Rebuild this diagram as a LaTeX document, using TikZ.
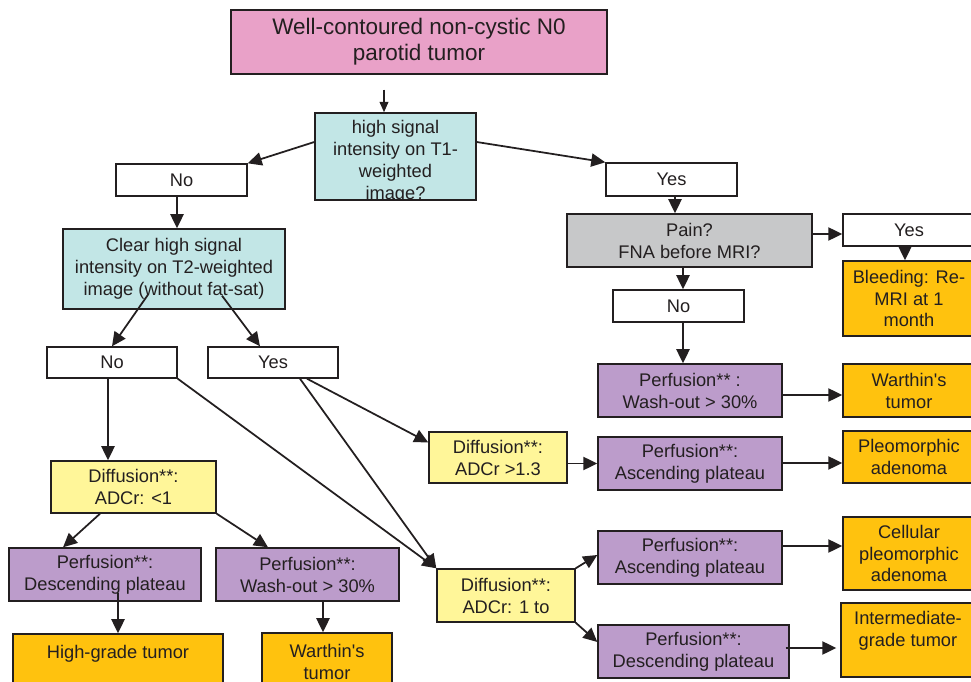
\documentclass[tikz,border=0pt]{standalone}
\usepackage{fontspec}
\setmainfont{Liberation Sans}[Ligatures=TeXOff]
\usetikzlibrary{arrows.meta}
\definecolor{edge}{RGB}{35,31,32}
\definecolor{ink}{RGB}{35,31,32}
\definecolor{pinkbox}{RGB}{233,161,200}
\definecolor{cyanbox}{RGB}{194,230,230}
\definecolor{graybox}{RGB}{199,200,201}
\definecolor{yellowbox}{RGB}{255,246,153}
\definecolor{purplebox}{RGB}{188,156,203}
\definecolor{orangebox}{RGB}{255,194,14}

\begin{document}
\begin{tikzpicture}[x=0.02cm,y=-0.02cm,
  box/.style={draw=edge,line width=0.8pt,inner sep=0pt,align=center,text=ink,
    font=\fontsize{10.4}{12.5}\selectfont},
  choice/.style={box,fill=white},
  question/.style={box,fill=cyanbox},
  diffusion/.style={box,fill=yellowbox},
  perfusion/.style={box,fill=purplebox,minimum height=1.06cm},
  result/.style={box,fill=orangebox},
  arr/.style={draw=edge,line width=1pt,-{Triangle[length=8pt,width=7.5pt]}},
  arrs/.style={draw=edge,line width=1pt,-{Triangle[length=6pt,width=5pt]}}]
\useasboundingbox (0,0) rectangle (971,682);

\node[box,fill=pinkbox,minimum width=7.52cm,minimum height=1.28cm,font=\fontsize{12.8}{15}\selectfont] (title) at (419,42) {Well-contoured non-cystic N0\\parotid tumor};

\node[question,minimum width=3.22cm,minimum height=1.74cm] (t1) at (395.5,156.5) {};
\begin{scope}
\clip (t1.south west) rectangle (t1.north east);
\node[box,draw=none] (t1text) at (395.5,162) {high signal\\intensity on T1-\\weighted\\image?};
\end{scope}

\node[choice,minimum width=2.62cm,minimum height=0.64cm] (no1) at (181.5,180) {No};
\node[choice,minimum width=2.62cm,minimum height=0.66cm] (yes1) at (671.5,179.5) {Yes};
\node[box,fill=graybox,minimum width=4.9cm,minimum height=1.06cm] (pain) at (689.5,240.5) {Pain?\\FNA before MRI?};
\node[choice,minimum width=2.64cm,minimum height=0.64cm] (yes2) at (909,230) {Yes};
\node[result,minimum width=2.64cm,minimum height=1.5cm] (bleed) at (909,298.5) {Bleeding: Re-\\MRI at 1\\month};
\node[choice,minimum width=2.62cm,minimum height=0.64cm] (no2) at (678.5,306) {No};
\node[perfusion,minimum width=3.68cm] (pwr) at (690,390.5) {Perfusion** :\\Wash-out > 30\%};
\node[result,minimum width=2.64cm,minimum height=1.06cm] (wr) at (909,390.5) {Warthin's\\tumor};

\node[question,minimum width=4.44cm,minimum height=1.6cm] (t2) at (174,269) {Clear high signal\\intensity on T2-weighted\\image (without fat-sat)};
\node[choice,minimum width=2.6cm,minimum height=0.62cm] (no3) at (112,362.5) {No};
\node[choice,minimum width=2.6cm,minimum height=0.62cm] (yes3) at (273,362.5) {Yes};

\node[diffusion,minimum width=3.3cm,minimum height=1.04cm] (dlow) at (133.5,487) {Diffusion**:\\ADCr: <1};
\node[perfusion,minimum width=3.84cm] (pdl) at (105,574.5) {Perfusion**:\\Descending plateau};
\node[perfusion,minimum width=3.66cm] (pwl) at (307.5,574.5) {Perfusion**:\\Wash-out > 30\%};
\node[result,minimum width=4.2cm,minimum height=1.16cm] (hg) at (118,663) {High-grade tumor\\\mbox{}};
\node[result,minimum width=2.6cm,minimum height=1.16cm] (wl) at (327,662) {Warthin's\\tumor};

\node[diffusion,minimum width=2.76cm,minimum height=1.02cm] (dhigh) at (498,457.5) {Diffusion**:\\ADCr >1.3};
\node[perfusion,minimum width=3.68cm] (pa1) at (690,463.5) {Perfusion**:\\Ascending plateau};
\node[result,minimum width=2.64cm,minimum height=1.04cm] (pleo) at (909,457) {Pleomorphic\\adenoma};

\node[diffusion,minimum width=2.76cm,minimum height=1.06cm] (dmid) at (506,595.5) {Diffusion**:\\ADCr: 1 to};
\node[perfusion,minimum width=3.68cm] (pa2) at (690,557.5) {Perfusion**:\\Ascending plateau};
\node[result,minimum width=2.64cm,minimum height=1.46cm] (cell) at (909,553.5) {Cellular\\pleomorphic\\adenoma};
\node[perfusion,minimum width=3.82cm] (pd2) at (693.5,651.5) {Perfusion**:\\Descending plateau};
\node[result,minimum width=2.68cm,minimum height=1.48cm] (inter) at (908,640) {Intermediate-\\grade tumor\\\mbox{}};

\draw[arrs] ([xshift=-0.7cm,yshift=-0.3cm]title.south) -- ([xshift=-0.7cm]title.south |- t1.north);
\draw[arr] ([yshift=0.29cm]t1.west) -- (no1.north east);
\draw[arr] ([yshift=0.29cm]t1.east) -- (yes1.north west);
\draw[arr] ([xshift=-0.09cm]no1.south) -- ([xshift=-0.09cm]no1.south |- t2.north);
\draw[arr] ([xshift=0.07cm]yes1.south) -- ([xshift=0.07cm]yes1.south |- pain.north);
\draw[arr] ([yshift=0.13cm]pain.east) -- ([yshift=0.13cm]pain.east -| yes2.west);
\draw[arr] ([xshift=-0.08cm]yes2.south) -- ([xshift=-0.08cm]yes2.south |- bleed.north);
\draw[arr] ([xshift=0.09cm]no2.north |- pain.south) -- ([xshift=0.09cm]no2.north);
\draw[arr] ([xshift=0.09cm]no2.south) -- ([xshift=0.09cm]no2.south |- pwr.north);
\draw[arr] ([yshift=-0.09cm]pwr.east) -- ([yshift=-0.09cm]pwr.east -| wr.west);

\draw[arr] ([xshift=-0.52cm,yshift=0.3cm]t2.south) -- (no3.north);
\draw[arr] ([xshift=0.96cm,yshift=0.28cm]t2.south) -- ([xshift=-0.26cm]yes3.north);
\draw[arr] ([xshift=-0.08cm]no3.south) -- ([xshift=-0.08cm]no3.south |- dlow.north);
\draw[arr] (no3.south east) -- (dmid.north west);
\draw[arr] ([xshift=0.54cm]yes3.south) -- (dmid.north west);
\draw[arr] ([xshift=0.68cm]yes3.south) -- ([yshift=0.3cm]dhigh.west);

\draw[arr] ([xshift=-0.67cm]dlow.south) -- ([xshift=-0.84cm]pdl.north);
\draw[arr] (dlow.south east) -- ([xshift=-0.79cm]pwl.north);
\draw[arr] ([yshift=0.18cm]hg.north |- pdl.south) -- (hg.north);
\draw[arr] ([xshift=-0.08cm]wl.north |- pwl.south) -- ([xshift=-0.08cm]wl.north);

\draw[arr] (pa1.west -| dhigh.east) -- (pa1.west);
\draw[arr] ([yshift=0.01cm]pa1.east) -- ([yshift=0.01cm]pa1.east -| pleo.west);
\draw[arr] (dmid.north east) -- ([yshift=0.05cm]pa2.west);
\draw[arr] (dmid.south east) -- ([yshift=0.19cm]pd2.west);
\draw[arr] ([yshift=0.23cm]pa2.east) -- ([yshift=0.23cm]pa2.east -| cell.west);
\draw[arr] ([xshift=-0.08cm,yshift=0.07cm]pd2.east) -- ([xshift=-0.08cm,yshift=0.07cm]pd2.east -| inter.west);
\end{tikzpicture}
\end{document}
